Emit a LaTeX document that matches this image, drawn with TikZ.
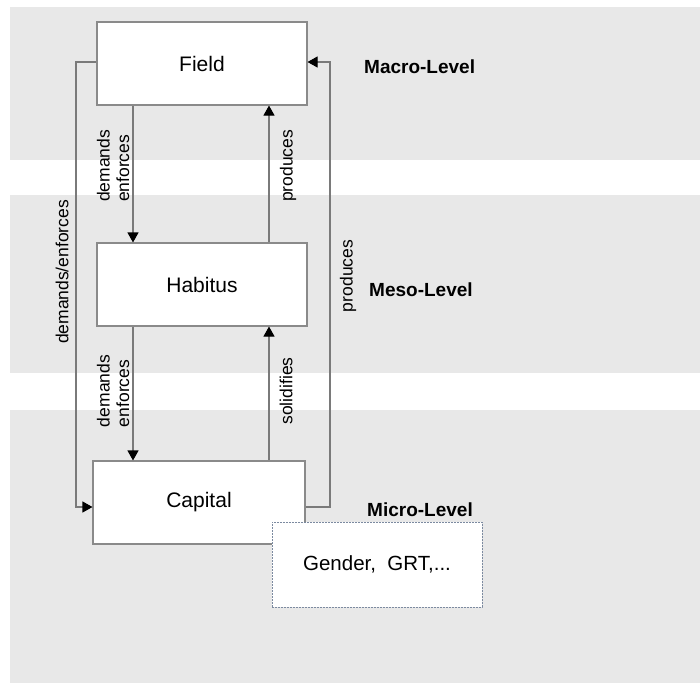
\documentclass[tikz,border=0pt]{standalone}
\usepackage{fontspec}
\setmainfont{Liberation Sans}
\usetikzlibrary{arrows.meta}
\definecolor{band}{HTML}{E8E8E8}
\definecolor{boxline}{HTML}{8A8A8A}
\definecolor{arrline}{HTML}{7A7A7A}
\definecolor{dashline}{HTML}{7C8AA0}
\tikzset{
  levelbox/.style={draw=boxline, line width=1.1pt, fill=white, minimum width=210pt, minimum height=83pt, inner sep=0pt, font=\fontsize{21}{24}\selectfont},
  extrabox/.style={draw=dashline, dashed, dash pattern=on 2pt off 1pt, line width=1pt, fill=white, minimum width=210pt, minimum height=85pt, inner sep=0pt, font=\fontsize{20.5}{24}\selectfont},
  arr/.style={draw=arrline, line width=1.1pt, -{Triangle[length=10pt,width=11pt,color=black]}},
  vlabel/.style={rotate=90, inner sep=0pt, align=left, font=\fontsize{17.5}{19.5}\selectfont},
  levellabel/.style={anchor=west, inner sep=0pt, font=\bfseries\fontsize{19}{22}\selectfont}
}
\begin{document}
\begin{tikzpicture}[x=1pt,y=-1pt]
\useasboundingbox (0,0) rectangle (700,685);
\fill[white] (0,0) rectangle (700,685);
% bands
\fill[band] (10,7) rectangle (700,160);
\fill[band] (10,195) rectangle (700,373);
\fill[band] (10,410) rectangle (700,683);
% boxes
\node[levelbox] (Field) at (202,63.5) {Field};
\node[levelbox] (Habitus) at (202,284.5) {Habitus};
\node[levelbox, minimum width=212pt] (Capital) at (199,502.5) {Capital};
% vertical arrows
\draw[arr] (133,0 |- Field.south) -- (133,0 |- Habitus.north);
\draw[arr] (269,0 |- Habitus.north) -- (269,0 |- Field.south);
\draw[arr] (133,0 |- Habitus.south) -- (133,0 |- Capital.north);
\draw[arr] (269,0 |- Capital.north) -- (269,0 |- Habitus.south);
% loops
\draw[arr] (Field.west |- 0,62) -- (76,62) |- (Capital.west |- 0,507);
\draw[arr] (Capital.east |- 0,507) -- (330,507) |- (Field.east |- 0,62);
% extra box
\node[extrabox] (Gender) at (377,564.5) {Gender,\ \ GRT,...};
% arrow labels
\node[vlabel] (l1) at (113,166) {demands\\enforces};
\node[vlabel] (l2) at (288,166) {produces};
\node[vlabel] (l3) at (62,272) {demands/enforces};
\node[vlabel] (l4) at (348,276) {produces};
\node[vlabel] (l5) at (113,391) {demands\\enforces};
\node[vlabel] (l6) at (286,391) {solidifies};
% level labels
\node[levellabel] (macro) at (364,67) {Macro-Level};
\node[levellabel] (meso) at (369,290) {Meso-Level};
\node[levellabel] (micro) at (367,510) {Micro-Level};
\end{tikzpicture}
\end{document}
